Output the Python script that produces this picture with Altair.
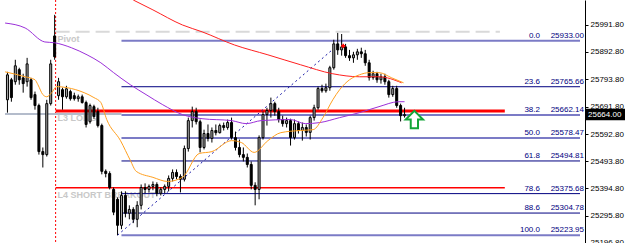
import altair as alt
import pandas as pd

# ---------------- data ----------------
bar_index = list(range(102))
opens = [25718, 25791, 25784, 25828, 25798, 25784, 25791, 25737, 25697, 25529,
         25518, 25704, 25951, 25733, 25755, 25729, 25748, 25733, 25722, 25729,
         25708, 25638, 25693, 25675, 25624, 25457, 25449, 25391, 25355, 25260,
         25369, 25304, 25318, 25282, 25333, 25398, 25391, 25402, 25409, 25377,
         25391, 25402, 25431, 25453, 25438, 25428, 25540, 25642, 25675, 25638,
         25544, 25595, 25577, 25606, 25598, 25624, 25617, 25635, 25580, 25544,
         25518, 25508, 25482, 25406, 25391, 25580, 25664, 25679, 25704, 25675,
         25646, 25631, 25642, 25580, 25631, 25606, 25617, 25599, 25653, 25689,
         25759, 25751, 25762, 25835, 25922, 25900, 25911, 25879, 25871, 25882,
         25893, 25886, 25853, 25799, 25813, 25791, 25802, 25784, 25737, 25759,
         25697, 25660]
highs = [25820, 25798, 25864, 25835, 25813, 25871, 25798, 25748, 25704, 25544,
         25718, 25864, 26028, 25798, 25762, 25769, 25755, 25744, 25737, 25737,
         25715, 25704, 25700, 25689, 25631, 25464, 25457, 25398, 25362, 25384,
         25384, 25333, 25326, 25348, 25409, 25413, 25409, 25420, 25417, 25398,
         25409, 25442, 25464, 25464, 25446, 25551, 25653, 25693, 25689, 25646,
         25609, 25628, 25617, 25628, 25631, 25635, 25646, 25653, 25602, 25573,
         25544, 25522, 25493, 25417, 25588, 25675, 25689, 25726, 25711, 25689,
         25660, 25653, 25649, 25646, 25639, 25635, 25628, 25660, 25700, 25766,
         25773, 25777, 25842, 25937, 25962, 25958, 25922, 25900, 25893, 25904,
         25908, 25900, 25864, 25824, 25820, 25813, 25813, 25791, 25769, 25769,
         25704, 25689]
lows = [25671, 25711, 25773, 25773, 25744, 25766, 25718, 25682, 25518, 25471,
        25511, 25697, 25864, 25718, 25682, 25722, 25715, 25715, 25711, 25704,
        25617, 25631, 25649, 25617, 25446, 25435, 25391, 25297, 25224, 25246,
        25289, 25282, 25268, 25253, 25318, 25377, 25380, 25388, 25366, 25369,
        25377, 25384, 25420, 25428, 25380, 25420, 25529, 25617, 25628, 25526,
        25537, 25566, 25562, 25588, 25595, 25606, 25609, 25573, 25533, 25508,
        25493, 25471, 25391, 25333, 25355, 25573, 25624, 25653, 25660, 25635,
        25620, 25617, 25551, 25573, 25595, 25569, 25584, 25573, 25642, 25682,
        25744, 25744, 25751, 25828, 25882, 25879, 25871, 25860, 25853, 25864,
        25871, 25842, 25788, 25791, 25780, 25777, 25773, 25726, 25729, 25689,
        25639, 25653]
closes = [25809, 25726, 25842, 25791, 25777, 25849, 25726, 25697, 25529, 25518,
          25704, 25849, 25875, 25784, 25729, 25758, 25722, 25722, 25729, 25708,
          25628, 25697, 25657, 25624, 25457, 25449, 25398, 25308, 25260, 25369,
          25304, 25318, 25282, 25333, 25398, 25391, 25402, 25409, 25377, 25391,
          25402, 25431, 25453, 25438, 25428, 25540, 25642, 25675, 25638, 25544,
          25595, 25577, 25606, 25598, 25624, 25617, 25635, 25580, 25544, 25518,
          25508, 25482, 25406, 25391, 25580, 25664, 25679, 25704, 25675, 25646,
          25631, 25642, 25580, 25631, 25606, 25617, 25599, 25653, 25689, 25759,
          25751, 25762, 25835, 25922, 25900, 25911, 25879, 25871, 25882, 25893,
          25886, 25853, 25799, 25813, 25791, 25802, 25784, 25737, 25759, 25697,
          25660, 25664]

red_ma_i = [32, 37, 44.5, 49.5, 57.75, 66.25, 74.5, 82.75, 89.5, 94.5, 100.25]
red_ma_v = [26082, 26046, 25991, 25966, 25918, 25882, 25846, 25813, 25802, 25802, 25780]

purple_ma_i = [-0.6, 4.5, 9.5, 12, 16.25, 20.25, 23.75, 27, 31.25, 35.25, 39.5, 44.5,
               49.5, 57, 60.75, 64.5, 72, 75.75, 79.5, 84.5, 89.5, 94.5, 99.5, 101]
purple_ma_v = [25998, 25980, 25929, 25926, 25908, 25882, 25853, 25817, 25773, 25737, 25700, 25664,
               25649, 25642, 25631, 25642, 25646, 25631, 25635, 25653, 25671, 25693, 25711, 25711]

orange_ma_i = [-0.6, 4.5, 7, 7.75, 9, 10, 11.25, 12.5, 15.25, 19.5, 22, 23.75, 25.25, 28.75,
               31.25, 32.75, 37, 40.75, 44.5, 48.75, 52, 57, 59.5, 62.75, 66.25, 69.5, 74.5,
               77.75, 80.25, 82.75, 84.5, 87, 89.5, 92, 94.5, 97.75, 100.75]
orange_ma_v = [25820, 25802, 25791, 25773, 25737, 25729, 25744, 25766, 25762, 25744, 25726, 25708,
               25646, 25569, 25497, 25457, 25435, 25420, 25435, 25522, 25529, 25569, 25562, 25526,
               25569, 25598, 25606, 25609, 25653, 25718, 25755, 25791, 25809, 25817, 25817, 25798,
               25780]

fib_levels = ["0.0", "23.6", "38.2", "50.0", "61.8", "78.6", "88.6", "100.0"]
fib_prices = [25933.00, 25765.66, 25662.14, 25578.47, 25494.81, 25375.68, 25304.78, 25223.95]
fib_labels = ["25933.00", "25765.66", "25662.14", "25578.47", "25494.81", "25375.68", "25304.78", "25223.95"]
fib_kind = ["main", "sub", "main", "main", "sub", "sub", "sub", "main"]
fib_start = 29
fib_end = 145.625
fib_diag_i = [28, 85.25]
fib_diag_v = [25223.95, 25933.00]

day_sep = 12.25
pivot_price = 25965.8
pivot_end = 125.25
l3_price = 25676.7
l4_price = 25397.4
levels_end = 126.5
prev_level_price = 25665.8

tick_values = [25991.80, 25892.80, 25793.80, 25691.80, 25592.80, 25493.80, 25394.80, 25295.80, 25196.80]
current_price = 25664.00
signal_i = 103.5
signal_price = 25646
mark_i = 85.4
mark_price = 25915

# ---------------- frames ----------------
candles = pd.DataFrame({"i": bar_index, "open": opens, "high": highs, "low": lows, "close": closes})
candles["dir"] = ["up" if c >= o else "down" for o, c in zip(opens, closes)]

X = alt.Scale(domain=[-0.625, 145.625], nice=False, zero=False)
Y = alt.Scale(domain=[25195.5, 26082.08], nice=False, zero=False)
YAX = alt.Axis(orient="right", values=tick_values, format=".2f", title="", grid=False,
               tickSize=3, labelFontSize=8, labelFont="Liberation Sans", labelColor="black",
               domainColor="black", tickColor="black", labelPadding=2, labelOverlap=False)


def xq(f):
    return alt.X(f, type="quantitative", scale=X, axis=None)


def yq(f):
    return alt.Y(f, type="quantitative", scale=Y, axis=YAX)


sep_df = pd.DataFrame({"i": [day_sep]})
sep = alt.Chart(sep_df).mark_rule(color="red", strokeWidth=1, strokeDash=[2, 2]).encode(
    x=xq("i"), y=alt.value(0), y2=alt.value(243))

pivot_df = pd.DataFrame({"x0": [day_sep], "x1": [pivot_end], "p": [pivot_price]})
pivot = alt.Chart(pivot_df).mark_rule(color="#d9d9d9", strokeWidth=2, strokeDash=[14, 6]).encode(
    x=xq("x0"), x2="x1", y=yq("p"))

lvl_df = pd.DataFrame({"x0": [day_sep, day_sep], "x1": [levels_end, levels_end],
                       "p": [l3_price, l4_price], "w": [3, 1.5]})
lvl = alt.Chart(lvl_df).mark_rule(color="#ff0000").encode(
    x=xq("x0"), x2="x1", y=yq("p"),
    strokeWidth=alt.StrokeWidth("w:Q", scale=None, legend=None))

prev_df = pd.DataFrame({"x0": [-0.625], "x1": [fib_start], "p": [prev_level_price]})
prev = alt.Chart(prev_df).mark_rule(color="#b4bccb", strokeWidth=2).encode(
    x=xq("x0"), x2="x1", y=yq("p"))

lab_df = pd.DataFrame({"i": [day_sep + 0.5] * 3, "p": [pivot_price, l3_price, l4_price],
                       "t": ["Pivot", "L3 LONG", "L4 SHORT BREAKOUT"]})
labs = alt.Chart(lab_df).mark_text(align="left", baseline="top", dy=3, fontSize=9,
                                   font="Liberation Sans", fontWeight="bold", color="#c8c8c8").encode(
    x=xq("i"), y=yq("p"), text="t:N")

fib_df = pd.DataFrame({"x0": [fib_start] * 8, "x1": [fib_end] * 8, "p": fib_prices,
                       "lvl": fib_levels, "lab": fib_labels, "kind": fib_kind})
fib_lines = alt.Chart(fib_df).mark_rule().encode(
    x=xq("x0"), x2="x1", y=yq("p"),
    color=alt.Color("kind:N", scale=alt.Scale(domain=["main", "sub"], range=["#7b7bc6", "#000080"]), legend=None),
    strokeWidth=alt.StrokeWidth("kind:N", scale=alt.Scale(domain=["main", "sub"], range=[2, 1]), legend=None))

diag_df = pd.DataFrame({"i": fib_diag_i, "p": fib_diag_v})
diag = alt.Chart(diag_df).mark_line(color="#1a1aa8", strokeWidth=1, strokeDash=[2, 3]).encode(
    x=xq("i"), y=yq("p"))

wick = alt.Chart(candles).mark_rule(color="black", strokeWidth=1).encode(
    x=xq("i"), y=yq("low"), y2="high")
body = alt.Chart(candles).mark_bar(width=2, stroke="black", strokeWidth=1).encode(
    x=xq("i"), y=yq("open"), y2="close",
    fill=alt.Fill("dir:N", scale=alt.Scale(domain=["up", "down"], range=["#a8a8a8", "#000000"]), legend=None))

def ma(i_list, v_list, color):
    df = pd.DataFrame({"i": i_list, "v": v_list})
    return alt.Chart(df).mark_line(color=color, strokeWidth=1, interpolate="monotone").encode(
        x=xq("i"), y=yq("v"))

red_ma = ma(red_ma_i, red_ma_v, "#ff2020")
purple_ma = ma(purple_ma_i, purple_ma_v, "#9b30d9")
orange_ma = ma(orange_ma_i, orange_ma_v, "#ffa020")

fib_lvl_txt = alt.Chart(fib_df).mark_text(align="right", baseline="alphabetic", dy=-3, fontSize=8,
                                          font="Liberation Sans", color="#000080").encode(
    x=alt.value(540), y=yq("p"), text="lvl:N")
fib_val_txt = alt.Chart(fib_df).mark_text(align="right", baseline="alphabetic", dy=-3, fontSize=8,
                                          font="Liberation Sans", color="#000080").encode(
    x=alt.value(584), y=yq("p"), text="lab:N")

sig_df = pd.DataFrame({"i": [signal_i], "p": [signal_price]})
arrow = alt.Chart(sig_df).mark_point(
    shape="M0,-1L1,0L0.42,0L0.42,1L-0.42,1L-0.42,0L-1,0Z", size=300, filled=False,
    fill="white", fillOpacity=1, stroke="#13a538", strokeWidth=2, opacity=1).encode(
    x=xq("i"), y=yq("p"))

mk_df = pd.DataFrame({"i": [mark_i], "p": [mark_price]})
marker = alt.Chart(mk_df).mark_point(shape="cross", size=18, filled=True, color="#ff0000", opacity=1).encode(
    x=xq("i"), y=yq("p"))

cur_df = pd.DataFrame({"p": [current_price], "t": ["25664.00"]})
cur_box = alt.Chart(cur_df).transform_calculate(
    top="datum.p + 21", bot="datum.p - 21").mark_rect(color="black").encode(
    x=alt.value(586), x2=alt.value(625), y=yq("top:Q"), y2="bot:Q")
cur_txt = alt.Chart(cur_df).mark_text(align="left", baseline="middle", fontSize=8,
                                      font="Liberation Sans", color="white").encode(
    x=alt.value(588), y=yq("p"), text="t:N")

chart = alt.layer(
    sep, pivot, labs, prev, lvl, fib_lines, diag, wick, body,
    red_ma, purple_ma, orange_ma, fib_lvl_txt, fib_val_txt, arrow, marker, cur_box, cur_txt
).properties(
    width=585, height=243, background="white",
    padding={"left": 0, "top": 0, "right": 40, "bottom": 0},
    autosize=alt.AutoSizeParams(type="none")
).configure_view(strokeWidth=0)

chart.save("out.html", embed_options={"renderer": "svg", "actions": False})
